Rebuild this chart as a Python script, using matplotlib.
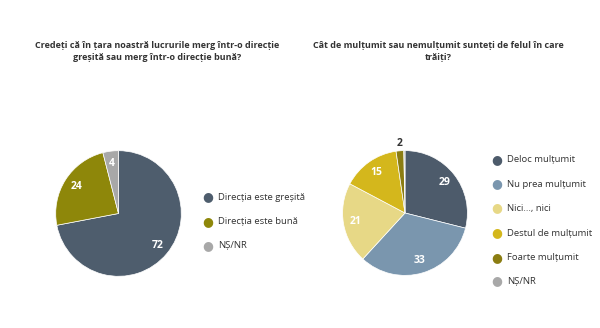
import matplotlib
matplotlib.use("Agg")
import matplotlib.pyplot as plt
import numpy as np

plt.rcParams['font.family'] = ['Open Sans', 'DejaVu Sans']

# Left chart: direction of the country
left_title = "Credeți că în țara noastră lucrurile merg într-o direcție\ngreșită sau merg într-o direcție bună?"
left_labels = ["Direcția este greșită", "Direcția este bună", "NȘ/NR"]
left_values = [72, 24, 4]
left_colors = ["#4e5d6d", "#8e870a", "#a8a8a8"]

# Right chart: satisfaction with life
right_title = "Cât de mulțumit sau nemulțumit sunteți de felul în care\ntrăiți?"
right_labels = ["Deloc mulțumit", "Nu prea mulțumit", "Nici..., nici",
                "Destul de mulțumit", "Foarte mulțumit", "NȘ/NR"]
right_values = [29, 33, 21, 15, 2, 0.3]
right_shown = ["29", "33", "21", "15", "2", ""]
right_colors = ["#4d5b6b", "#7a96ae", "#e7d886", "#d4b71c", "#8b7d12", "#a8a8a8"]

W, H = 600, 328
fig = plt.figure(figsize=(W / 100, H / 100), dpi=100)
fig.patch.set_facecolor("white")

TXT = "#333333"


def pie_axes(cx, cy, r):
    ax = fig.add_axes([(cx - r) / W, 1 - (cy + r) / H, 2 * r / W, 2 * r / H])
    ax.set_xlim(-1, 1)
    ax.set_ylim(-1, 1)
    ax.set_aspect("equal")
    ax.axis("off")
    return ax


def draw_pie(ax, values, colors, texts, inside=0.8, outside=1.12, small=3):
    wedges, _ = ax.pie(values, colors=colors, startangle=90, counterclock=False,
                       radius=1.0, wedgeprops=dict(edgecolor="white", linewidth=0.5))
    for w, v, t in zip(wedges, values, texts):
        if not t:
            continue
        ang = np.deg2rad((w.theta1 + w.theta2) / 2)
        d = inside if v > small else outside
        col = "white" if v > small else TXT
        ax.text(d * np.cos(ang), d * np.sin(ang), t, ha="center", va="center",
                fontsize=7.5, fontweight="bold", color=col)


def legend(x, ys, labels, colors):
    for y, lab, c in zip(ys, labels, colors):
        fig.text(x / W, 1 - y / H, "●", color=c, fontsize=9, ha="center", va="center")
        fig.text((x + 10) / W, 1 - y / H, lab, color=TXT, fontsize=6.8, ha="left", va="center")


axL = pie_axes(118.5, 213.5, 78.5)
draw_pie(axL, left_values, left_colors, [str(v) for v in left_values])
legend(208, [197, 222, 246], left_labels, left_colors)

axR = pie_axes(405, 213, 78)
draw_pie(axR, right_values, right_colors, right_shown)
legend(497, [160, 184, 208, 233, 258, 281], right_labels, right_colors)

fig.text(157 / W, 1 - 51.5 / H, left_title, ha="center", va="center", fontsize=6.5,
         fontweight="bold", color=TXT, linespacing=1.45)
fig.text(438 / W, 1 - 51.5 / H, right_title, ha="center", va="center", fontsize=6.5,
         fontweight="bold", color=TXT, linespacing=1.45)

fig.savefig("out.png", dpi=100, facecolor="white")
